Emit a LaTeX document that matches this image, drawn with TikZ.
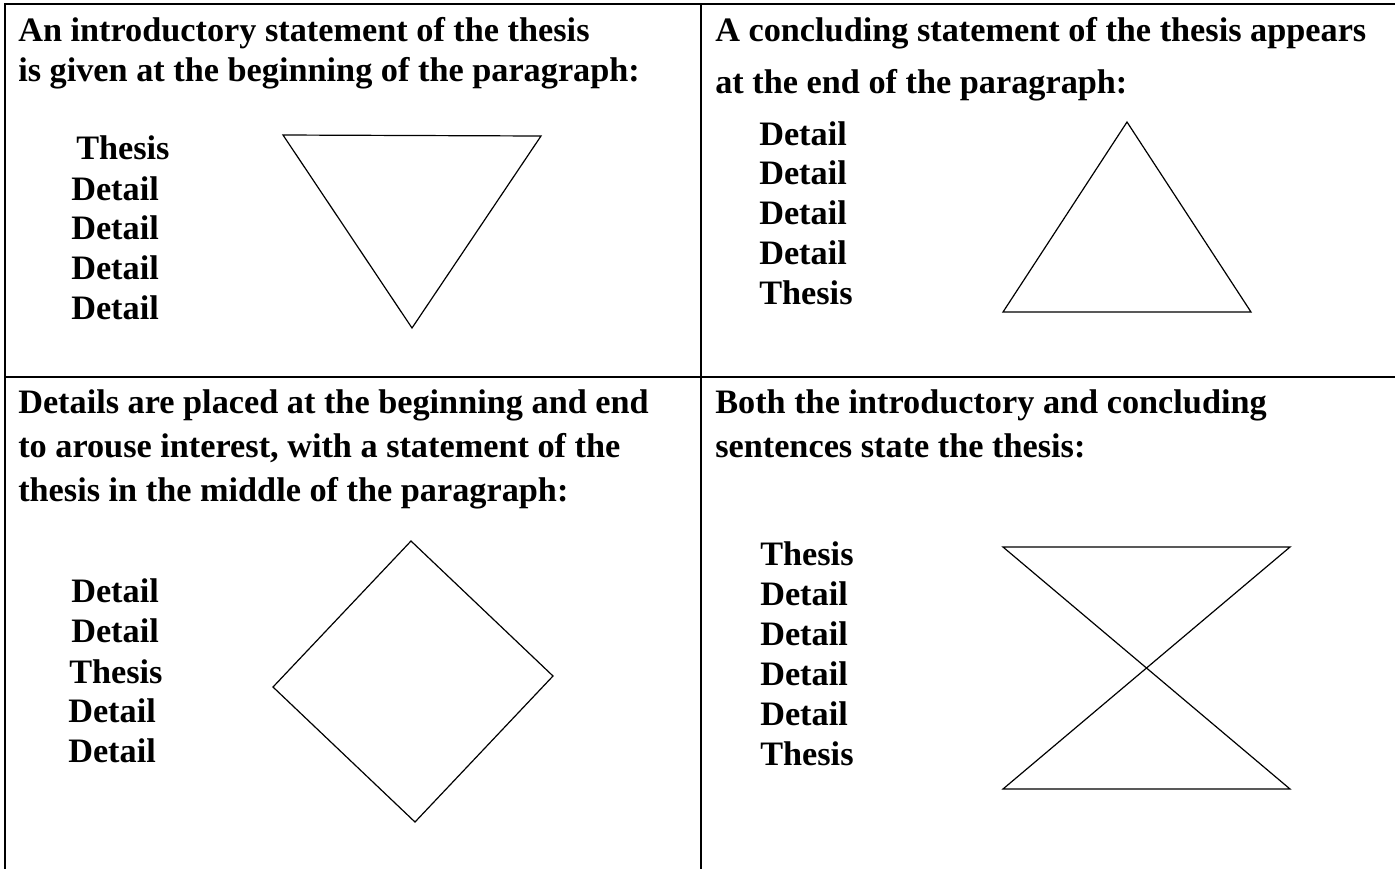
\documentclass[tikz,border=0pt]{standalone}
\usepackage{fontspec}
\setmainfont{Liberation Serif}
\begin{document}
\begin{tikzpicture}[x=0.75pt,y=-0.75pt,
  txt/.style={anchor=base west,inner sep=0pt,font=\bfseries\fontsize{25.7}{30}\selectfont},
  rule/.style={line width=1.5pt},
  figline/.style={line width=0.9pt,line join=miter}]
\useasboundingbox (0,0) rectangle (1395,869);
% table rules
\coordinate (tl) at (4,4);
\coordinate (tr) at (1395,4);
\coordinate (bl) at (5,869);
\coordinate (mt) at (701,4);
\coordinate (mb) at (701,869);
\coordinate (ml) at (5,377);
\coordinate (mr) at (1395,377);
\draw[rule] (tr) -- (tl) -- (5,4) -- (bl);
\draw[rule] (mt) -- (mb);
\draw[rule] (ml) -- (mr);
% headings
\node[txt] (h1a) at (18,41) {An introductory statement of the thesis};
\node[txt] (h1b) at (18,81) {is given at the beginning of the paragraph:};
\node[txt] (h2a) at (715,41) {A concluding statement of the thesis appears};
\node[txt] (h2b) at (715,93) {at the end of the paragraph:};
\node[txt] (h3a) at (18,413) {Details are placed at the beginning and end};
\node[txt] (h3b) at (18,457) {to arouse interest, with a statement of the};
\node[txt] (h3c) at (18,501) {thesis in the middle of the paragraph:};
\node[txt] (h4a) at (715,413) {Both the introductory and concluding};
\node[txt] (h4b) at (715,457) {sentences state the thesis:};
% quadrant 1 list
\node[txt] (a1) at (76,159) {Thesis};
\node[txt] (a2) at (71,200) {Detail};
\node[txt] (a3) at (71,239) {Detail};
\node[txt] (a4) at (71,279) {Detail};
\node[txt] (a5) at (71,319) {Detail};
% quadrant 2 list
\node[txt] (b1) at (759,145) {Detail};
\node[txt] (b2) at (759,184) {Detail};
\node[txt] (b3) at (759,224) {Detail};
\node[txt] (b4) at (759,264) {Detail};
\node[txt] (b5) at (759,304) {Thesis};
% quadrant 3 list
\node[txt] (c1) at (71,602) {Detail};
\node[txt] (c2) at (71,642) {Detail};
\node[txt] (c3) at (69,683) {Thesis};
\node[txt] (c4) at (68,722) {Detail};
\node[txt] (c5) at (68,762) {Detail};
% quadrant 4 list
\node[txt] (d1) at (760,565) {Thesis};
\node[txt] (d2) at (760,605) {Detail};
\node[txt] (d3) at (760,645) {Detail};
\node[txt] (d4) at (760,685) {Detail};
\node[txt] (d5) at (760,725) {Detail};
\node[txt] (d6) at (760,765) {Thesis};
% inverted triangle
\coordinate (t1a) at (283,135);
\coordinate (t1b) at (541,136);
\coordinate (t1c) at (412,328);
\draw[figline] (t1a) -- (t1b) -- (t1c) -- cycle;
% upright triangle
\coordinate (t2a) at (1127,122);
\coordinate (t2b) at (1251,312);
\coordinate (t2c) at (1003,312);
\draw[figline] (t2a) -- (t2b) -- (t2c) -- cycle;
% diamond
\coordinate (dt) at (411,541);
\coordinate (dr) at (553,676);
\coordinate (db) at (415,822);
\coordinate (dl) at (273,687);
\draw[figline] (dt) -- (dr) -- (db) -- (dl) -- cycle;
% hourglass
\coordinate (ht1) at (1003,547);
\coordinate (ht2) at (1290,547);
\coordinate (hb1) at (1003,789);
\coordinate (hb2) at (1290,789);
\draw[figline] (ht1) -- (ht2) -- (hb1) -- (hb2) -- cycle;
\end{tikzpicture}
\end{document}
